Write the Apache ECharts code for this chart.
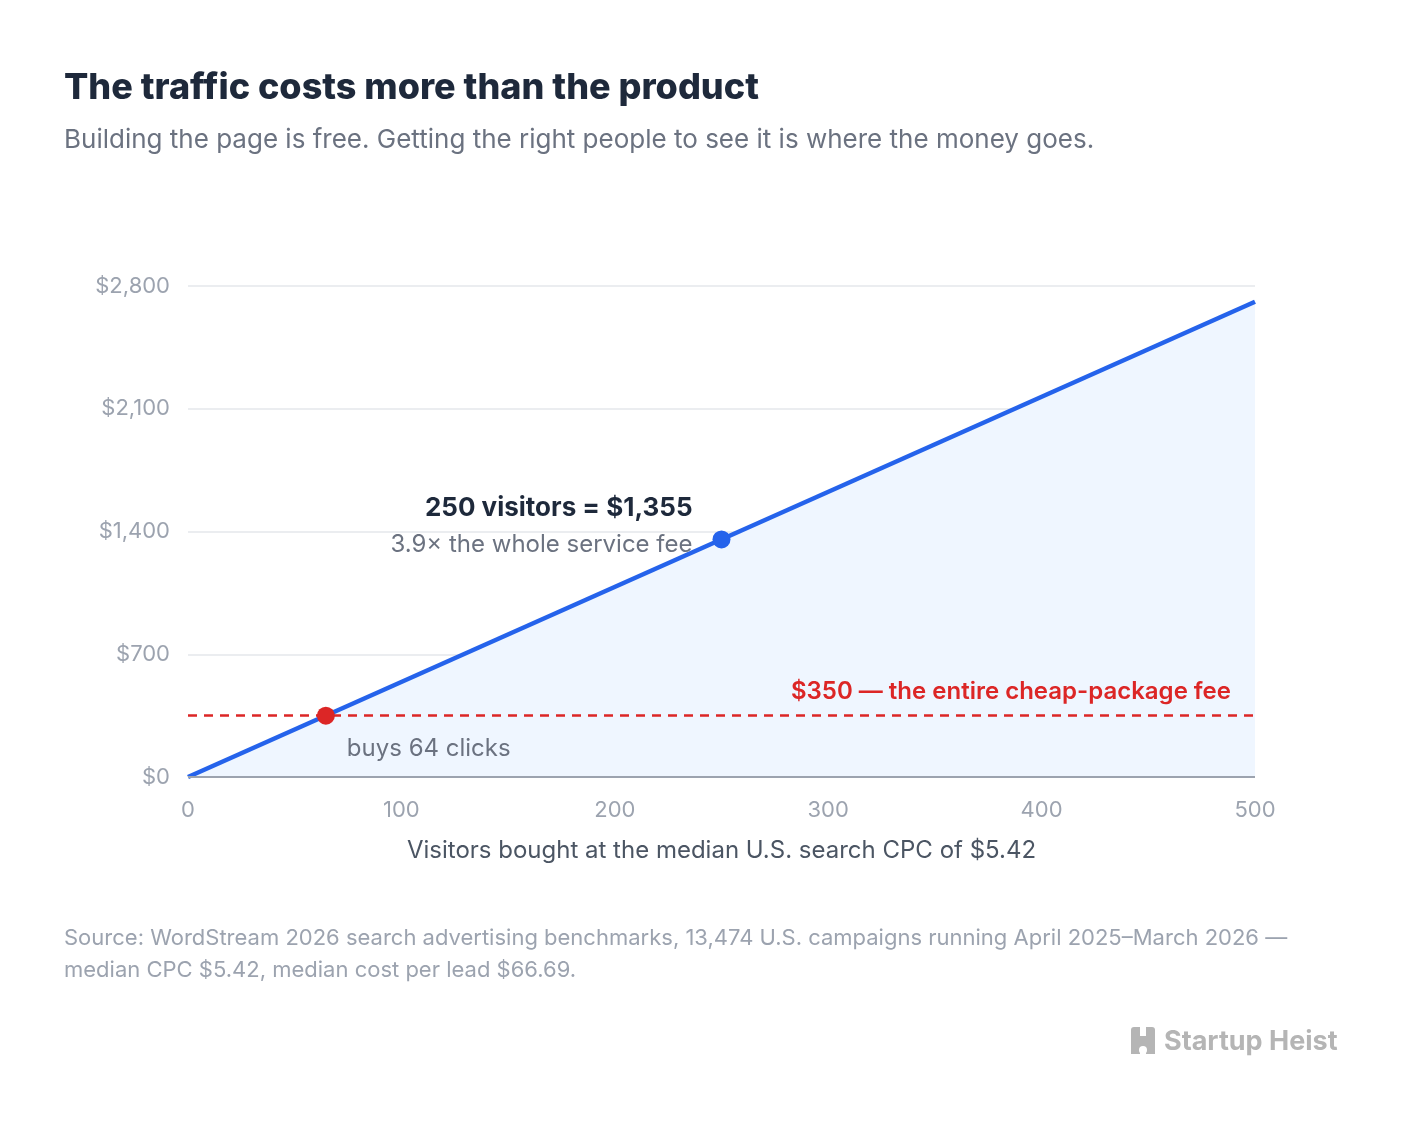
<!DOCTYPE html>
<html lang="en">
<head>
    <meta charset="UTF-8">
    <title>The traffic costs more than the product</title>
    <script src="https://cdn.jsdelivr.net/npm/echarts/dist/echarts.min.js"></script>
    <style>
        html, body { margin: 0; padding: 0; background: #fff; }
        #chart { width: 1408px; height: 1124px; }
    </style>
</head>
<body>
<div id="chart"></div>
<script>
    // data
    var visitors = [0, 500];
    var cost = [0, 2710];
    var yTicks = [0, 700, 1400, 2100, 2800];
    var xTicks = [0, 100, 200, 300, 400, 500];
    var feeLine = 350;
    var cheapPoint = [64.6, 350];
    var highlightPoint = [250, 1355];

    var font = 'Inter, "Noto Sans", sans-serif';

    var chart = echarts.init(document.getElementById('chart'));

    var logoGrey = '#b5b5b5';

    chart.setOption({
        animation: false,
        textStyle: { fontFamily: font },
        grid: { left: 188, right: 153, top: 286, bottom: 347, outerBoundsMode: 'none' },
        xAxis: {
            type: 'value',
            min: xTicks[0],
            max: xTicks[xTicks.length - 1],
            interval: 100,
            name: 'Visitors bought at the median U.S. search CPC of $5.42',
            nameLocation: 'middle',
            nameGap: 62,
            nameTextStyle: { fontSize: 24, color: '#4b5563', fontFamily: font },
            axisLine: { show: false },
            axisTick: { show: false },
            splitLine: { show: false },
            axisLabel: { fontSize: 22, color: '#9ca3af', margin: 22, fontFamily: font }
        },
        yAxis: {
            type: 'value',
            min: yTicks[0],
            max: yTicks[yTicks.length - 1],
            interval: 700,
            axisLine: { show: false },
            axisTick: { show: false },
            splitLine: { lineStyle: { color: '#e5e7eb', width: 1.5 } },
            axisLabel: {
                fontSize: 22, color: '#9ca3af', margin: 18, fontFamily: font,
                formatter: function (v) { return '$' + v.toLocaleString('en-US'); }
            }
        },
        series: [
            {
                type: 'line',
                data: visitors.map(function (v, i) { return [v, cost[i]]; }),
                symbol: 'none',
                lineStyle: { color: '#2563eb', width: 4.5 },
                areaStyle: { color: '#eff6ff', opacity: 1 },
                z: 3,
                markLine: {
                    silent: true,
                    symbol: 'none',
                    data: [
                        {
                            yAxis: feeLine,
                            lineStyle: { color: '#dc2626', type: [9, 7], width: 2.5 },
                            label: {
                                position: 'insideEndTop',
                                distance: [24, 12],
                                formatter: '$350 \u2014 the entire cheap-package fee',
                                color: '#dc2626',
                                fontSize: 24,
                                fontWeight: 600,
                                fontFamily: font
                            }
                        },
                        {
                            yAxis: 0,
                            lineStyle: { color: '#9ca3af', type: 'solid', width: 2 },
                            label: { show: false }
                        }
                    ]
                }
            },
            {
                type: 'scatter',
                data: [cheapPoint],
                symbolSize: 18,
                itemStyle: { color: '#dc2626', opacity: 1 },
                z: 5,
                label: {
                    show: true,
                    position: 'right',
                    distance: 0,
                    offset: [12, 33],
                    formatter: 'buys 64 clicks',
                    color: '#6b7280',
                    fontSize: 24,
                    fontFamily: font
                }
            },
            {
                type: 'scatter',
                data: [highlightPoint],
                symbolSize: 18,
                itemStyle: { color: '#2563eb', opacity: 1 },
                z: 5,
                label: {
                    show: true,
                    position: 'left',
                    distance: 20,
                    offset: [0, -13],
                    align: 'right',
                    formatter: '{a|250 visitors = $1,355}\n{b|3.9\u00d7 the whole service fee}',
                    rich: {
                        a: { fontSize: 26, fontWeight: 700, color: '#1e293b', lineHeight: 37, align: 'right', fontFamily: font },
                        b: { fontSize: 24, color: '#6b7280', lineHeight: 37, align: 'right', fontFamily: font }
                    }
                }
            }
        ],
        graphic: [
            {
                type: 'text', left: 64, top: 70,
                style: { text: 'The traffic costs more than the product', font: '800 36px ' + font, fill: '#1e293b' }
            },
            {
                type: 'text', left: 64, top: 127,
                style: { text: 'Building the page is free. Getting the right people to see it is where the money goes.', font: '400 26px ' + font, fill: '#6b7280' }
            },
            {
                type: 'text', left: 64, top: 922,
                style: {
                    text: 'Source: WordStream 2026 search advertising benchmarks, 13,474 U.S. campaigns running April 2025\u2013March 2026 \u2014\nmedian CPC $5.42, median cost per lead $66.69.',
                    font: '400 22px ' + font, fill: '#9ca3af', lineHeight: 32
                }
            },
            {
                type: 'group', left: 1131, top: 1027,
                children: [
                    { type: 'rect', shape: { x: 0, y: 0, width: 9, height: 27, r: [3, 0, 0, 0] }, style: { fill: logoGrey } },
                    { type: 'rect', shape: { x: 15, y: 0, width: 9, height: 27, r: [0, 3, 0, 0] }, style: { fill: logoGrey } },
                    { type: 'rect', shape: { x: 8, y: 9, width: 8, height: 14 }, style: { fill: logoGrey } },
                    { type: 'circle', shape: { cx: 12, cy: 23, r: 4 }, style: { fill: '#ffffff' } }
                ]
            },
            {
                type: 'text', left: 1164, top: 1028,
                style: { text: 'Startup Heist', font: '700 27px ' + font, fill: logoGrey }
            }
        ]
    });
</script>
</body>
</html>
